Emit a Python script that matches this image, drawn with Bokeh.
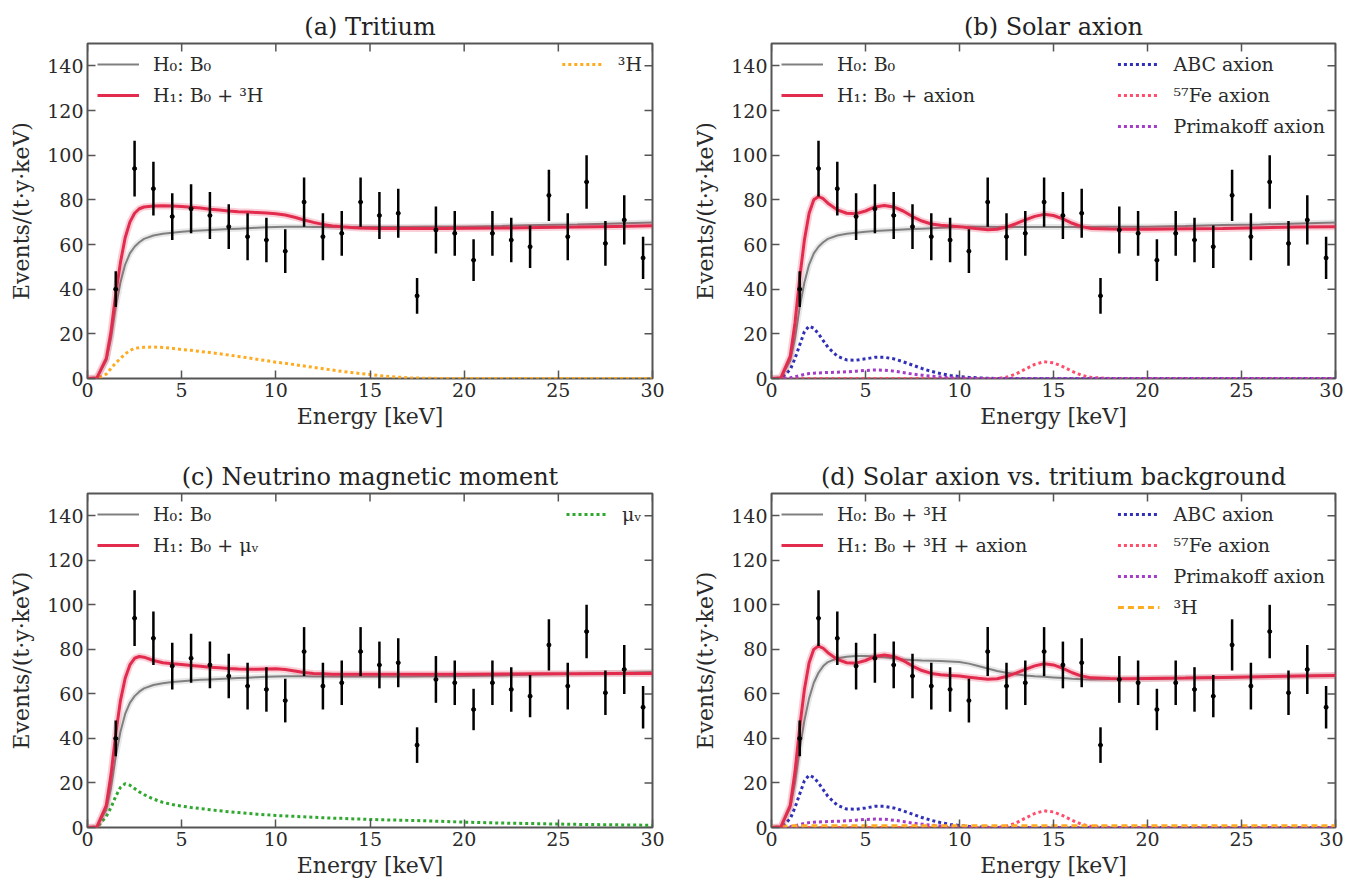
from bokeh.plotting import figure
from bokeh.layouts import column, row
from bokeh.models import Range1d, FixedTicker, Legend, LegendItem, ColumnDataSource
from bokeh.embed import file_html
from bokeh.resources import INLINE

FONT = "DejaVu Serif"

# ---------------- data ----------------
X_RANGE = (0, 30)
Y_RANGE = (0, 150)
X_TICKS = [0, 5, 10, 15, 20, 25, 30]
Y_TICKS = [0, 20, 40, 60, 80, 100, 120, 140]

E_CURVE = [0, 0.5, 1, 1.25, 1.5, 1.75, 2, 2.25, 2.5, 2.75, 3,
           3.5, 4, 4.5, 5, 5.5, 6, 6.5, 7, 7.5, 8, 8.5, 9, 9.5, 10, 10.5, 11, 11.5,
           12, 12.5, 13, 13.5, 14, 14.5, 15, 15.5, 16, 16.5, 17,
           18, 19, 20, 22, 24, 26, 28, 30]

B0 = [0, 0.3, 8, 18, 32, 43, 51, 56, 59, 61, 62.5,
      64, 64.8, 65.3, 65.7, 66, 66.3, 66.5, 66.7, 66.9, 67.1, 67.3, 67.5, 67.7, 67.8,
      67.9, 67.9, 67.9, 67.8, 67.8, 67.8, 67.8, 67.8, 67.8, 67.8, 67.8, 67.8, 67.8, 67.8,
      67.9, 67.9, 68, 68.3, 68.7, 69, 69.4, 69.8]

H1_A = [0, 0.3, 9, 21, 38, 52, 63, 70, 74, 76, 76.8,
        77.2, 77.3, 77.2, 77, 76.7, 76.3, 75.8, 75.4, 75, 74.7, 74.5, 74.3, 74.1, 73.8,
        73.2, 72.2, 71, 69.9, 69, 68.3, 67.9, 67.6, 67.4, 67.3, 67.2, 67.2, 67.2, 67.2,
        67.2, 67.2, 67.3, 67.4, 67.6, 67.8, 68.1, 68.4]

TRITIUM_A = [0, 0, 2, 4.5, 7, 9, 11, 12.5, 13.5, 13.8, 14,
             14.1, 13.9, 13.5, 13, 12.6, 12.1, 11.6, 11.1, 10.5, 9.9, 9.3, 8.6, 8, 7.3,
             6.8, 6.2, 5.6, 5, 4.4, 3.8, 3.2, 2.7, 2.2, 1.8, 1.3, 0.9, 0.6, 0.3,
             0.1, 0, 0, 0, 0, 0, 0, 0]

H1_B = [0, 0.3, 10, 25, 45, 62, 74, 80, 81.5, 80.5, 78.5,
        75.5, 74, 73.8, 75, 76.8, 77.5, 76.8, 75, 72.5, 70.5, 69.2, 68.6, 68.3, 68,
        67.5, 67, 66.6, 66.8, 67.8, 69.3, 71, 72.6, 73.5, 73, 71.5, 69.5, 68, 67.2,
        66.9, 66.8, 66.8, 67, 67.2, 67.5, 67.8, 68]

ABC = [0, 0, 4, 9, 15, 21, 23.5, 22.5, 20, 17, 14,
       10, 8.3, 8.2, 8.8, 9.5, 9.5, 8.8, 7.5, 6, 4.5, 3.2, 2.2, 1.4, 0.9,
       0.5, 0.3, 0.1, 0, 0, 0, 0, 0, 0, 0, 0, 0, 0, 0,
       0, 0, 0, 0, 0, 0, 0, 0]

FE57 = [0, 0, 0, 0, 0, 0, 0, 0, 0, 0, 0,
        0, 0, 0, 0, 0, 0, 0, 0, 0, 0, 0, 0, 0, 0,
        0, 0, 0, 0, 0.6, 2, 4.2, 6.3, 7.5, 7, 5.3, 3.2, 1.4, 0.5,
        0, 0, 0, 0, 0, 0, 0, 0]

PRIMAKOFF = [0, 0, 0.3, 0.8, 1.3, 1.8, 2.2, 2.4, 2.5, 2.6, 2.7,
             2.8, 3, 3.3, 3.6, 3.8, 3.7, 3.3, 2.7, 2, 1.5, 1, 0.7, 0.4, 0.2,
             0.1, 0, 0, 0, 0, 0, 0, 0, 0, 0, 0, 0, 0, 0,
             0, 0, 0, 0, 0, 0, 0, 0]

H1_C = [0, 0.3, 10, 24, 42, 57, 67, 73, 76, 76.8, 76.5,
        75, 74, 73.5, 73.2, 72.8, 72.4, 72, 71.7, 71.4, 71.2, 71.1, 71.1, 71.2, 71.3,
        71, 70.3, 69.6, 69.2, 69, 68.8, 68.8, 68.8, 68.8, 68.8, 68.8, 68.8, 68.8, 68.8,
        68.8, 68.8, 68.8, 68.9, 69, 69.1, 69.2, 69.2]

MU_NU = [0, 0, 5, 9, 14, 18, 19.7, 19, 17.5, 16, 14.8,
         12.8, 11.3, 10.3, 9.6, 9, 8.5, 8, 7.5, 7.1, 6.7, 6.3, 6, 5.7, 5.4,
         5.2, 5, 4.8, 4.6, 4.4, 4.2, 4.1, 3.9, 3.8, 3.6, 3.5, 3.4, 3.3, 3.2,
         3, 2.7, 2.4, 2, 1.7, 1.4, 1.2, 1]

H0_D = [0, 0.3, 9, 20, 35, 48, 58, 65, 69.5, 72.5, 74.3,
        76, 76.7, 77, 77, 76.8, 76.5, 76, 75.5, 75.2, 75, 74.9, 74.8, 74.6, 74.3,
        73.6, 72.5, 71.4, 70.3, 69.5, 68.8, 68.3, 67.9, 67.7, 67.4, 67.1, 66.8, 66.6, 66.5,
        66.6, 66.7, 66.8, 67.1, 67.4, 67.7, 68, 68.3]

H1_D = [0, 0.3, 10, 25, 45, 62, 74, 80, 81.5, 80.5, 78.5,
        75.5, 74, 73.8, 75, 76.8, 77.5, 76.8, 75, 72.5, 70.5, 69.2, 68.6, 68.3, 68,
        67.5, 67, 66.6, 66.8, 67.8, 69.3, 71, 72.6, 73.5, 73, 71.5, 69.5, 68, 67.2,
        66.9, 66.8, 66.9, 67.1, 67.4, 67.7, 68, 68.3]

TRITIUM_D = [0, 0.5, 0.8, 0.8, 0.8, 0.8, 0.8, 0.8, 0.8, 0.8, 0.8,
             0.8, 0.8, 0.8, 0.8, 0.8, 0.8, 0.8, 0.8, 0.8, 0.8, 0.8, 0.8, 0.8, 0.8,
             0.8, 0.8, 0.8, 0.8, 0.8, 0.8, 0.8, 0.8, 0.8, 0.8, 0.8, 0.8, 0.8, 0.8,
             0.8, 0.8, 0.8, 0.8, 0.8, 0.8, 0.8, 0.8]

E_DATA = [1.5, 2.5, 3.5, 4.5, 5.5, 6.5, 7.5, 8.5, 9.5, 10.5, 11.5, 12.5, 13.5, 14.5, 15.5,
          16.5, 17.5, 18.5, 19.5, 20.5, 21.5, 22.5, 23.5, 24.5, 25.5, 26.5, 27.5, 28.5, 29.5]
RATE = [40, 94, 85, 72.5, 76, 73, 68, 63.5, 62, 57, 79, 63.5, 65, 79, 73, 74, 37, 66.5,
        65, 53, 65, 62, 59, 82, 63.5, 88, 60.5, 71, 54]
ERR = [8, 12.5, 12, 10.5, 11, 10.5, 10, 10.5, 10, 9.8, 11, 10.5, 10, 11, 10.5, 11, 8,
       10.5, 10, 9.3, 10, 10, 9.5, 11.5, 10.5, 12, 10, 11, 9.5]

TITLES = ["(a) Tritium", "(b) Solar axion", "(c) Neutrino magnetic moment",
          "(d) Solar axion vs. tritium background"]
X_LABEL = "Energy [keV]"
Y_LABEL = "Events/(t\u00b7y\u00b7keV)"

GRAY = "#808080"
RED = "#e32b4e"
BLUE = "#2f2fb8"
PINK = "#ff4d6a"
PURPLE = "#a43cc8"
ORANGE = "#ffab1f"
GREEN = "#2ea82e"
FRAME = "#555555"
TEXT = "#2a2a2a"


def style_axis(ax, label_standoff):
    ax.axis_line_color = None
    ax.major_tick_in = 8
    ax.major_tick_out = 0
    ax.minor_tick_in = 0
    ax.minor_tick_out = 0
    ax.major_tick_line_color = FRAME
    ax.major_tick_line_width = 1.5
    ax.major_label_text_font = FONT
    ax.major_label_text_color = TEXT
    ax.major_label_text_font_size = "19px"
    ax.major_label_standoff = 4
    ax.axis_label_text_font = FONT
    ax.axis_label_text_font_size = "22px"
    ax.axis_label_text_font_style = "normal"
    ax.axis_label_text_color = TEXT
    ax.axis_label_standoff = label_standoff


def make_panel(title, h0, h0_label, h1, h1_label, comps, width, height, b_right, b_bottom):
    p = figure(width=width, height=height, x_range=Range1d(*X_RANGE), y_range=Range1d(*Y_RANGE),
               output_backend="svg", toolbar_location=None,
               min_border_left=87, min_border_right=b_right, min_border_top=43,
               min_border_bottom=b_bottom)
    p.title.text = title
    p.title.align = "center"
    p.title.text_font = FONT
    p.title.text_font_size = "24px"
    p.title.text_font_style = "normal"
    p.title.text_color = "#222222"
    p.title.standoff = 6
    p.grid.visible = False
    p.outline_line_color = FRAME
    p.outline_line_width = 2
    p.background_fill_color = "white"
    p.border_fill_color = "white"

    p.xaxis.ticker = FixedTicker(ticks=X_TICKS)
    p.yaxis.ticker = FixedTicker(ticks=Y_TICKS)
    p.xaxis.axis_label = X_LABEL
    p.yaxis.axis_label = Y_LABEL
    style_axis(p.xaxis[0], 4)
    style_axis(p.yaxis[0], 10)

    # mirrored inward ticks on the top and right edges
    p.ray(x=X_TICKS, y=[Y_RANGE[1]] * len(X_TICKS), length=8, length_units="screen",
          angle=-90, angle_units="deg", line_color=FRAME, line_width=1.5)
    p.ray(x=[X_RANGE[1]] * len(Y_TICKS), y=Y_TICKS, length=8, length_units="screen",
          angle=180, angle_units="deg", line_color=FRAME, line_width=1.5)

    comp_items = []
    for label, vals, color, dash, lw in comps:
        r = p.line(E_CURVE, vals, line_color=color, line_width=lw, line_dash=dash)
        comp_items.append(LegendItem(label=label, renderers=[r]))

    p.line(E_CURVE, h0, line_color=GRAY, line_width=6, line_alpha=0.18)
    r0 = p.line(E_CURVE, h0, line_color=GRAY, line_width=2)
    p.line(E_CURVE, h1, line_color=RED, line_width=7, line_alpha=0.22)
    r1 = p.line(E_CURVE, h1, line_color=RED, line_width=3)

    src = ColumnDataSource(dict(x=E_DATA, y=RATE,
                                lo=[v - e for v, e in zip(RATE, ERR)],
                                hi=[v + e for v, e in zip(RATE, ERR)]))
    p.segment(x0="x", y0="lo", x1="x", y1="hi", source=src, line_color="black", line_width=2.5)
    p.scatter("x", "y", source=src, size=4, color="black")

    common = dict(border_line_color=None, background_fill_alpha=0,
                  label_text_font=FONT, label_text_font_size="19px",
                  label_text_color=TEXT,
                  glyph_width=42, glyph_height=20, label_height=20, spacing=9,
                  padding=5, margin=10, label_standoff=14)
    leg_l = Legend(items=[LegendItem(label=h0_label, renderers=[r0]),
                          LegendItem(label=h1_label, renderers=[r1])],
                   location="top_left", **common)
    leg_r = Legend(items=comp_items, location="top_right", **common)
    p.add_layout(leg_l)
    p.add_layout(leg_r)
    return p


DOT = "3 3"
TOP_H, BOT_H = 450, 430
pa = make_panel(TITLES[0], B0, "H\u2080: B\u2080", H1_A, "H\u2081: B\u2080 + \u00b3H",
                [("\u00b3H", TRITIUM_A, ORANGE, DOT, 3)],
                684, TOP_H, 32, 72)
pb = make_panel(TITLES[1], B0, "H\u2080: B\u2080", H1_B, "H\u2081: B\u2080 + axion",
                [("ABC axion", ABC, BLUE, DOT, 3),
                 ("\u2075\u2077Fe axion", FE57, PINK, DOT, 3),
                 ("Primakoff axion", PRIMAKOFF, PURPLE, DOT, 3)],
                659, TOP_H, 8, 72)
pc = make_panel(TITLES[2], B0, "H\u2080: B\u2080", H1_C, "H\u2081: B\u2080 + \u03bc\u1d65",
                [("\u03bc\u1d65", MU_NU, GREEN, DOT, 3)],
                684, BOT_H, 32, 51)
pd = make_panel(TITLES[3], H0_D, "H\u2080: B\u2080 + \u00b3H", H1_D,
                "H\u2081: B\u2080 + \u00b3H + axion",
                [("ABC axion", ABC, BLUE, DOT, 3),
                 ("\u2075\u2077Fe axion", FE57, PINK, DOT, 3),
                 ("Primakoff axion", PRIMAKOFF, PURPLE, DOT, 3),
                 ("\u00b3H", TRITIUM_D, ORANGE, "6 4", 3)],
                659, BOT_H, 8, 51)

layout = column(row(pa, pb), row(pc, pd))
open("out.html", "w").write(file_html(layout, INLINE))
